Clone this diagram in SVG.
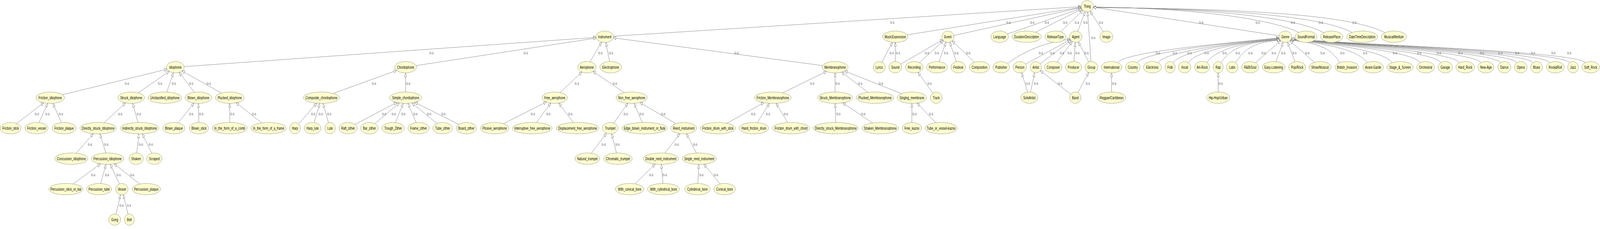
<svg xmlns="http://www.w3.org/2000/svg" width="6178" height="586" viewBox="0 0 6178 586" preserveAspectRatio="none" style="width:100vw;height:100vh;display:block">
<style>
.node ellipse{fill:#ffffcc;stroke:#8a8a8a;stroke-width:1}
.node text{font-family:"Liberation Sans",Arial,sans-serif;font-size:11px;text-anchor:middle;fill:#000}
#edges line,#edges path{stroke:#777;stroke-width:1;fill:none;marker-end:url(#arr)}
.lbl{font-family:"Liberation Sans",Arial,sans-serif;font-size:10px;fill:#6e6e6e;text-anchor:middle}
</style>
<defs>
<marker id="arr" viewBox="-1 -1 12 10" refX="10" refY="4" markerWidth="12" markerHeight="10" markerUnits="userSpaceOnUse" orient="auto">
<path d="M0,0 L10,4 L0,8 Z" fill="#fff" stroke="#777" stroke-width="1"/>
</marker>
</defs>
<rect width="6178" height="586" fill="#fff"/>
<g id="edges">
<line x1="2368.8" y1="92.6" x2="4174.1" y2="17"/>
<line x1="3503.2" y1="89.1" x2="4174.4" y2="18.5"/>
<line x1="3682.9" y1="90.7" x2="4174.7" y2="19.4"/>
<line x1="3889.9" y1="87.1" x2="4175.6" y2="21.2"/>
<line x1="3998.6" y1="82.5" x2="4177" y2="23"/>
<line x1="4094.9" y1="81.4" x2="4181.4" y2="26.5"/>
<line x1="4161.4" y1="80.3" x2="4190.2" y2="29.7"/>
<line x1="4259.9" y1="81.3" x2="4209.9" y2="28.6"/>
<line x1="4212.5" y1="157.5" x2="4199.5" y2="30.5"/>
<line x1="4938.4" y1="91.5" x2="4221.7" y2="18.4"/>
<path d="M5015,83 C4940,58 4700,22 4222,18"/>
<path d="M5112,84 C5040,56 4800,23 4222,18.5"/>
<path d="M5220,83 C5140,54 4900,23 4222,19"/>
<path d="M5348,84 C5260,52 5000,22 4222,19.5"/>
<line x1="710.8" y1="170.4" x2="2301.2" y2="95.6"/>
<line x1="1606.3" y1="167.9" x2="2301.9" y2="97.4"/>
<line x1="2278.1" y1="158.4" x2="2323" y2="107.6"/>
<line x1="2353.7" y1="157.6" x2="2339.2" y2="108.4"/>
<line x1="3176.6" y1="167.8" x2="2368.3" y2="96.9"/>
<line x1="3405.3" y1="159" x2="3445.8" y2="108.1"/>
<line x1="3457" y1="157.5" x2="3457" y2="108.5"/>
<line x1="3477.8" y1="164" x2="3640.1" y2="101.7"/>
<line x1="3549.8" y1="160.1" x2="3643.2" y2="104.1"/>
<line x1="3625.7" y1="157.8" x2="3652.6" y2="107.8"/>
<line x1="3692.8" y1="158" x2="3667.1" y2="107.8"/>
<line x1="3762.3" y1="159.4" x2="3676.3" y2="104.4"/>
<path d="M3892,162 C3960,128 4040,108 4132,100.4"/>
<line x1="3959.8" y1="164.1" x2="4133" y2="101.4"/>
<line x1="4016.7" y1="163.3" x2="4135.2" y2="103.3"/>
<line x1="4081.5" y1="158.9" x2="4140.2" y2="106"/>
<line x1="4146.6" y1="157.5" x2="4152" y2="108.5"/>
<line x1="4203.8" y1="158.8" x2="4163.8" y2="107.1"/>
<path d="M4316,160.4 C4346,130 4789,108 4938.5,96.9"/>
<path d="M4390.8,160.4 C4420.8,130 4789,108 4938.5,96.9"/>
<path d="M4471,160.4 C4501,130 4789,108 4939.5,99"/>
<path d="M4529.8,160.4 C4559.8,130 4789,108 4939.5,99"/>
<path d="M4588.4,160.4 C4618.4,130 4789,108 4941,100.9"/>
<path d="M4659.6,160.4 C4689.6,130 4789,108 4941,100.9"/>
<path d="M4715.2,160.4 C4745.2,130 4789,108 4943,102.7"/>
<path d="M4771.2,160.4 C4801.2,130 4831.2,108 4943,102.7"/>
<line x1="4847.5" y1="160.5" x2="4945.3" y2="104.2"/>
<line x1="4926.2" y1="157.8" x2="4955.1" y2="107.8"/>
<line x1="5000.5" y1="158" x2="4971" y2="107.7"/>
<line x1="5075.5" y1="159.5" x2="4980.6" y2="104.3"/>
<path d="M5173.4,160.4 C5143.4,130 5113.4,112 4983,102.7"/>
<path d="M5278.2,160.4 C5248.2,130 5136,112 4983,102.7"/>
<path d="M5375.6,160.4 C5345.6,130 5136,112 4985,100.9"/>
<path d="M5484,160.4 C5454,130 5136,112 4985,100.9"/>
<path d="M5564.1,160.4 C5534.1,130 5136,112 4985,100.9"/>
<path d="M5635.9,160.4 C5605.9,130 5136,112 4986.5,99"/>
<path d="M5718.8,160.4 C5688.8,130 5136,112 4986.5,99"/>
<path d="M5793.6,160.4 C5763.6,130 5136,112 4986.5,99"/>
<path d="M5857.3,160.4 C5827.3,130 5136,112 4986.5,99"/>
<path d="M5919.4,160.4 C5889.4,130 5136,112 4986.5,99"/>
<path d="M5984.7,160.4 C5954.7,130 5136,112 4986.5,99"/>
<path d="M6061.5,160.4 C6031.5,130 5136,112 4986.5,99"/>
<path d="M6121.6,160.4 C6091.6,130 5136,112 4986.5,99"/>
<line x1="240.9" y1="242.4" x2="645.2" y2="177.1"/>
<line x1="533.6" y1="237.7" x2="653.8" y2="182.6"/>
<line x1="644.1" y1="235.6" x2="669.7" y2="186.2"/>
<line x1="750.2" y1="236.2" x2="691.9" y2="185"/>
<line x1="855.1" y1="238.1" x2="702.6" y2="181.5"/>
<line x1="1286.6" y1="239.1" x2="1531.5" y2="180.3"/>
<line x1="1566" y1="235.5" x2="1566" y2="186.5"/>
<line x1="2162.9" y1="236.9" x2="2246.7" y2="184.2"/>
<line x1="2410.7" y1="237.2" x2="2289.8" y2="182.7"/>
<line x1="3021.8" y1="237.7" x2="3191.2" y2="182.8"/>
<line x1="3224.5" y1="235.5" x2="3224.5" y2="186.5"/>
<line x1="3352" y1="236.5" x2="3249.4" y2="184.6"/>
<line x1="3481.5" y1="239.6" x2="3261.5" y2="181.7"/>
<line x1="3602.1" y1="238.1" x2="3544.4" y2="185.2"/>
<line x1="3967.9" y1="235.8" x2="3944.6" y2="186"/>
<line x1="3979.1" y1="235.6" x2="3995" y2="186.2"/>
<line x1="4134.6" y1="241.1" x2="4016.6" y2="180.8"/>
<line x1="4162.2" y1="237.2" x2="4203.5" y2="185.2"/>
<line x1="4292" y1="235.5" x2="4292" y2="186.5"/>
<line x1="4703.6" y1="235.5" x2="4703.6" y2="186.5"/>
<line x1="64.4" y1="316.1" x2="168.7" y2="262.9"/>
<line x1="150.6" y1="313.8" x2="184.3" y2="264.3"/>
<line x1="237.7" y1="313.8" x2="203.8" y2="264.3"/>
<line x1="401.5" y1="314.3" x2="485.1" y2="263.2"/>
<line x1="532.8" y1="313.5" x2="512.5" y2="264.4"/>
<line x1="687.7" y1="314.6" x2="749.4" y2="263.7"/>
<line x1="767.9" y1="313.5" x2="766.1" y2="264.5"/>
<line x1="887" y1="313.5" x2="887" y2="264.5"/>
<line x1="1011.2" y1="314.6" x2="911.9" y2="263"/>
<line x1="1152.9" y1="317.4" x2="1222.7" y2="264"/>
<line x1="1213.2" y1="313.8" x2="1234.7" y2="264.4"/>
<line x1="1268.6" y1="314.2" x2="1247.2" y2="264.4"/>
<line x1="1370.7" y1="318.6" x2="1531.7" y2="262"/>
<line x1="1447.1" y1="316.5" x2="1542.1" y2="263.4"/>
<line x1="1526.7" y1="313.8" x2="1557.2" y2="264.4"/>
<line x1="1606.9" y1="313.9" x2="1575.2" y2="264.3"/>
<line x1="1687.2" y1="316.1" x2="1590.4" y2="263.3"/>
<line x1="1771.4" y1="318.3" x2="1601.6" y2="261.8"/>
<line x1="1943.9" y1="316.6" x2="2109.6" y2="260.9"/>
<line x1="2070.8" y1="313.8" x2="2126.6" y2="263.8"/>
<line x1="2214" y1="313.8" x2="2157.5" y2="263.8"/>
<line x1="2369.7" y1="315.1" x2="2424.1" y2="264"/>
<line x1="2479.8" y1="313.6" x2="2448.2" y2="264.3"/>
<line x1="2610.1" y1="316.4" x2="2470.7" y2="262.3"/>
<line x1="2806.1" y1="315.5" x2="2949.5" y2="262.7"/>
<line x1="2924.2" y1="313.9" x2="2970.7" y2="264.2"/>
<line x1="3041.7" y1="313.7" x2="2996.9" y2="264.3"/>
<line x1="3226.9" y1="313.5" x2="3224.6" y2="264.5"/>
<line x1="3369.5" y1="314.8" x2="3253.7" y2="263.1"/>
<line x1="3521" y1="313.5" x2="3521" y2="264.5"/>
<line x1="3614.1" y1="314.3" x2="3540.7" y2="263.6"/>
<line x1="293.9" y1="392.1" x2="360.4" y2="342"/>
<line x1="408.6" y1="391.6" x2="385.7" y2="342.4"/>
<line x1="528" y1="391.6" x2="536.3" y2="342.5"/>
<line x1="586" y1="392.4" x2="549.3" y2="342.4"/>
<line x1="2283.5" y1="392.3" x2="2341.6" y2="340.7"/>
<line x1="2380.5" y1="391.6" x2="2361.5" y2="342.3"/>
<line x1="2567.5" y1="391.9" x2="2624.4" y2="341.8"/>
<line x1="2689" y1="391.7" x2="2650.9" y2="342.1"/>
<line x1="281.8" y1="470.8" x2="388.3" y2="419.1"/>
<line x1="388.7" y1="469.6" x2="409.3" y2="420.4"/>
<line x1="461" y1="470.7" x2="425.4" y2="420.3"/>
<line x1="540" y1="471.1" x2="440.7" y2="419.3"/>
<line x1="2451.7" y1="470.6" x2="2530.2" y2="419.8"/>
<line x1="2560" y1="469.6" x2="2553.5" y2="420.4"/>
<line x1="2694.3" y1="469.6" x2="2698.7" y2="420.4"/>
<line x1="2781.3" y1="470.7" x2="2717.6" y2="420"/>
<line x1="447.9" y1="547.8" x2="465.4" y2="498.2"/>
<line x1="494.3" y1="548.1" x2="475.7" y2="498.1"/>
<g id="edge-labels">
<text class="lbl" x="3445" y="61.5">is-a</text><text class="lbl" x="3894" y="61.5">is-a</text><text class="lbl" x="3986" y="61.5">is-a</text><text class="lbl" x="4042" y="61.5">is-a</text><text class="lbl" x="4113" y="61.5">is-a</text><text class="lbl" x="4158" y="61.5">is-a</text><text class="lbl" x="4191" y="61.5">is-a</text><text class="lbl" x="4251" y="61.5">is-a</text><text class="lbl" x="4638" y="61.5">is-a</text><text class="lbl" x="4856" y="61.5">is-a</text><text class="lbl" x="4992" y="61.5">is-a</text><text class="lbl" x="5100" y="61.5">is-a</text><text class="lbl" x="5230" y="61.5">is-a</text>
<text class="lbl" x="4221" y="100.5">is-a</text>
<text class="lbl" x="1666" y="139.5">is-a</text><text class="lbl" x="2030" y="139.5">is-a</text><text class="lbl" x="2318" y="139.5">is-a</text><text class="lbl" x="2359" y="139.5">is-a</text><text class="lbl" x="2844" y="139.5">is-a</text><text class="lbl" x="3443" y="139.5">is-a</text><text class="lbl" x="3467" y="139.5">is-a</text><text class="lbl" x="3579" y="139.5">is-a</text><text class="lbl" x="3617" y="139.5">is-a</text><text class="lbl" x="3653" y="139.5">is-a</text><text class="lbl" x="3693" y="139.5">is-a</text><text class="lbl" x="3738" y="139.5">is-a</text><text class="lbl" x="4019" y="139.5">is-a</text><text class="lbl" x="4063" y="139.5">is-a</text><text class="lbl" x="4101" y="139.5">is-a</text><text class="lbl" x="4130" y="139.5">is-a</text><text class="lbl" x="4160" y="139.5">is-a</text><text class="lbl" x="4195" y="139.5">is-a</text>
<text class="lbl" x="4471" y="139.5">is-a</text><text class="lbl" x="4536" y="139.5">is-a</text><text class="lbl" x="4593" y="139.5">is-a</text><text class="lbl" x="4659" y="139.5">is-a</text><text class="lbl" x="4728" y="139.5">is-a</text><text class="lbl" x="4779" y="139.5">is-a</text><text class="lbl" x="4828" y="139.5">is-a</text><text class="lbl" x="4879" y="139.5">is-a</text><text class="lbl" x="4918" y="139.5">is-a</text><text class="lbl" x="4955" y="139.5">is-a</text><text class="lbl" x="4998" y="139.5">is-a</text><text class="lbl" x="5048" y="139.5">is-a</text><text class="lbl" x="5107" y="139.5">is-a</text><text class="lbl" x="5183" y="139.5">is-a</text><text class="lbl" x="5271" y="139.5">is-a</text><text class="lbl" x="5386" y="139.5">is-a</text><text class="lbl" x="5480" y="139.5">is-a</text><text class="lbl" x="5556" y="139.5">is-a</text><text class="lbl" x="5639" y="139.5">is-a</text><text class="lbl" x="5722" y="139.5">is-a</text><text class="lbl" x="5793" y="139.5">is-a</text><text class="lbl" x="5858" y="139.5">is-a</text><text class="lbl" x="5919" y="139.5">is-a</text><text class="lbl" x="5998" y="139.5">is-a</text><text class="lbl" x="6059" y="139.5">is-a</text>
<text class="lbl" x="490" y="217.5">is-a</text><text class="lbl" x="618" y="217.5">is-a</text><text class="lbl" x="671" y="217.5">is-a</text><text class="lbl" x="738" y="217.5">is-a</text><text class="lbl" x="806" y="217.5">is-a</text><text class="lbl" x="1444" y="217.5">is-a</text><text class="lbl" x="1576" y="217.5">is-a</text><text class="lbl" x="2227" y="217.5">is-a</text><text class="lbl" x="2374" y="217.5">is-a</text><text class="lbl" x="3136" y="217.5">is-a</text><text class="lbl" x="3234" y="217.5">is-a</text><text class="lbl" x="3321" y="217.5">is-a</text><text class="lbl" x="3401" y="217.5">is-a</text><text class="lbl" x="3589" y="217.5">is-a</text><text class="lbl" x="3969" y="217.5">is-a</text><text class="lbl" x="4000" y="217.5">is-a</text><text class="lbl" x="4093" y="217.5">is-a</text><text class="lbl" x="4200" y="217.5">is-a</text><text class="lbl" x="4302" y="217.5">is-a</text><text class="lbl" x="4713" y="217.5">is-a</text>
<text class="lbl" x="142" y="295.5">is-a</text><text class="lbl" x="183" y="295.5">is-a</text><text class="lbl" x="235" y="295.5">is-a</text><text class="lbl" x="464" y="295.5">is-a</text><text class="lbl" x="536" y="295.5">is-a</text><text class="lbl" x="738" y="295.5">is-a</text><text class="lbl" x="777" y="295.5">is-a</text><text class="lbl" x="897" y="295.5">is-a</text><text class="lbl" x="981" y="295.5">is-a</text><text class="lbl" x="1209" y="295.5">is-a</text><text class="lbl" x="1238" y="295.5">is-a</text><text class="lbl" x="1271" y="295.5">is-a</text><text class="lbl" x="1483" y="295.5">is-a</text><text class="lbl" x="1520" y="295.5">is-a</text><text class="lbl" x="1557" y="295.5">is-a</text><text class="lbl" x="1604" y="295.5">is-a</text><text class="lbl" x="1657" y="295.5">is-a</text><text class="lbl" x="1712" y="295.5">is-a</text><text class="lbl" x="2057" y="295.5">is-a</text><text class="lbl" x="2117" y="295.5">is-a</text><text class="lbl" x="2202" y="295.5">is-a</text><text class="lbl" x="2416" y="295.5">is-a</text><text class="lbl" x="2477" y="295.5">is-a</text><text class="lbl" x="2561" y="295.5">is-a</text><text class="lbl" x="2908" y="295.5">is-a</text><text class="lbl" x="2965" y="295.5">is-a</text><text class="lbl" x="3034" y="295.5">is-a</text><text class="lbl" x="3237" y="295.5">is-a</text><text class="lbl" x="3333" y="295.5">is-a</text><text class="lbl" x="3531" y="295.5">is-a</text><text class="lbl" x="3595" y="295.5">is-a</text>
<text class="lbl" x="347" y="373.5">is-a</text><text class="lbl" x="410" y="373.5">is-a</text><text class="lbl" x="544" y="373.5">is-a</text><text class="lbl" x="582" y="373.5">is-a</text><text class="lbl" x="2331" y="373.5">is-a</text><text class="lbl" x="2384" y="373.5">is-a</text><text class="lbl" x="2613" y="373.5">is-a</text><text class="lbl" x="2684" y="373.5">is-a</text>
<text class="lbl" x="360" y="451.5">is-a</text><text class="lbl" x="413" y="451.5">is-a</text><text class="lbl" x="458" y="451.5">is-a</text><text class="lbl" x="510" y="451.5">is-a</text><text class="lbl" x="2514" y="451.5">is-a</text><text class="lbl" x="2567" y="451.5">is-a</text><text class="lbl" x="2708" y="451.5">is-a</text><text class="lbl" x="2765" y="451.5">is-a</text>
<text class="lbl" x="469" y="529.5">is-a</text><text class="lbl" x="498" y="529.5">is-a</text>
</g>
</g>
<g id="nodes">
<g id="n-Thing" class="node"><ellipse cx="4198" cy="16" rx="24" ry="14.5"/><text x="4198" y="20">Thing</text></g>
<g id="n-Instrument" class="node"><ellipse cx="2335" cy="94" rx="34" ry="14.5"/><text x="2335" y="98">Instrument</text></g>
<g id="n-MusicExpression" class="node"><ellipse cx="3457" cy="94" rx="49" ry="14.5"/><text x="3457" y="98">MusicExpression</text></g>
<g id="n-Event" class="node"><ellipse cx="3660" cy="94" rx="23.5" ry="14.5"/><text x="3660" y="98">Event</text></g>
<g id="n-Language" class="node"><ellipse cx="3860" cy="94" rx="34" ry="14.5"/><text x="3860" y="98">Language</text></g>
<g id="n-DurationDescription" class="node"><ellipse cx="3964" cy="94" rx="57" ry="14.5"/><text x="3964" y="98">DurationDescription</text></g>
<g id="n-ReleaseType" class="node"><ellipse cx="4075" cy="94" rx="40.5" ry="14.5"/><text x="4075" y="98">ReleaseType</text></g>
<g id="n-Agent" class="node"><ellipse cx="4153.6" cy="94" rx="24" ry="14.5"/><text x="4153.6" y="98">Agent</text></g>
<g id="n-Image" class="node"><ellipse cx="4272" cy="94" rx="25" ry="14.5"/><text x="4272" y="98">Image</text></g>
<g id="n-Genre" class="node"><ellipse cx="4963" cy="94" rx="25" ry="14.5"/><text x="4963" y="98">Genre</text></g>
<g id="n-SoundFormat" class="node"><ellipse cx="5043" cy="94" rx="42" ry="14.5"/><text x="5043" y="98">SoundFormat</text></g>
<g id="n-ReleasePlace" class="node"><ellipse cx="5142" cy="94" rx="43" ry="14.5"/><text x="5142" y="98">ReleasePlace</text></g>
<g id="n-DateTimeDescription" class="node"><ellipse cx="5260" cy="94" rx="60" ry="14.5"/><text x="5260" y="98">DateTimeDescription</text></g>
<g id="n-MusicalMedium" class="node"><ellipse cx="5382.5" cy="94" rx="49" ry="14.5"/><text x="5382.5" y="98">MusicalMedium</text></g>
<g id="n-Idiophone" class="node"><ellipse cx="677" cy="172" rx="34" ry="14.5"/><text x="677" y="176">Idiophone</text></g>
<g id="n-Chordophone" class="node"><ellipse cx="1566" cy="172" rx="42" ry="14.5"/><text x="1566" y="176">Chordophone</text></g>
<g id="n-Aerophone" class="node"><ellipse cx="2266" cy="172" rx="35.5" ry="14.5"/><text x="2266" y="176">Aerophone</text></g>
<g id="n-Electrophone" class="node"><ellipse cx="2358" cy="172" rx="42" ry="14.5"/><text x="2358" y="176">Electrophone</text></g>
<g id="n-Membranophone" class="node"><ellipse cx="3224.5" cy="172" rx="50" ry="14.5"/><text x="3224.5" y="176">Membranophone</text></g>
<g id="n-Lyrics" class="node"><ellipse cx="3395" cy="172" rx="23.5" ry="14.5"/><text x="3395" y="176">Lyrics</text></g>
<g id="n-Sound" class="node"><ellipse cx="3457" cy="172" rx="25" ry="14.5"/><text x="3457" y="176">Sound</text></g>
<g id="n-Recording" class="node"><ellipse cx="3530" cy="172" rx="34.5" ry="14.5"/><text x="3530" y="176">Recording</text></g>
<g id="n-Performance" class="node"><ellipse cx="3618" cy="172" rx="40" ry="14.5"/><text x="3618" y="176">Performance</text></g>
<g id="n-Festival" class="node"><ellipse cx="3700" cy="172" rx="28" ry="14.5"/><text x="3700" y="176">Festival</text></g>
<g id="n-Composition" class="node"><ellipse cx="3782" cy="172" rx="39.5" ry="14.5"/><text x="3782" y="176">Composition</text></g>
<g id="n-Publisher" class="node"><ellipse cx="3866" cy="172" rx="32" ry="14.5"/><text x="3866" y="176">Publisher</text></g>
<g id="n-Person" class="node"><ellipse cx="3938" cy="172" rx="26" ry="14.5"/><text x="3938" y="176">Person</text></g>
<g id="n-Artist" class="node"><ellipse cx="3999.5" cy="172" rx="21.5" ry="14.5"/><text x="3999.5" y="176">Artist</text></g>
<g id="n-Composer" class="node"><ellipse cx="4067" cy="172" rx="33.5" ry="14.5"/><text x="4067" y="176">Composer</text></g>
<g id="n-Producer" class="node"><ellipse cx="4145" cy="172" rx="31.5" ry="14.5"/><text x="4145" y="176">Producer</text></g>
<g id="n-Group" class="node"><ellipse cx="4214" cy="172" rx="25" ry="14.5"/><text x="4214" y="176">Group</text></g>
<g id="n-International" class="node"><ellipse cx="4292" cy="172" rx="40" ry="14.5"/><text x="4292" y="176">International</text></g>
<g id="n-Country" class="node"><ellipse cx="4374" cy="172" rx="28" ry="14.5"/><text x="4374" y="176">Country</text></g>
<g id="n-Electronic" class="node"><ellipse cx="4450" cy="172" rx="35" ry="14.5"/><text x="4450" y="176">Electronic</text></g>
<g id="n-Folk" class="node"><ellipse cx="4518" cy="172" rx="19.6" ry="14.5"/><text x="4518" y="176">Folk</text></g>
<g id="n-Vocal" class="node"><ellipse cx="4574" cy="172" rx="24" ry="14.5"/><text x="4574" y="176">Vocal</text></g>
<g id="n-Art-Rock" class="node"><ellipse cx="4642" cy="172" rx="29.3" ry="14.5"/><text x="4642" y="176">Art-Rock</text></g>
<g id="n-Rap" class="node"><ellipse cx="4703.6" cy="172" rx="19.4" ry="14.5"/><text x="4703.6" y="176">Rap</text></g>
<g id="n-Latin" class="node"><ellipse cx="4758" cy="172" rx="22" ry="14.5"/><text x="4758" y="176">Latin</text></g>
<g id="n-RB_Soul" class="node"><ellipse cx="4827.5" cy="172" rx="33" ry="14.5"/><text x="4827.5" y="176">R&amp;B/Soul</text></g>
<g id="n-Easy-Listening" class="node"><ellipse cx="4918" cy="172" rx="44" ry="14.5"/><text x="4918" y="176">Easy-Listening</text></g>
<g id="n-Pop_Rock" class="node"><ellipse cx="5008.7" cy="172" rx="32.6" ry="14.5"/><text x="5008.7" y="176">Pop/Rock</text></g>
<g id="n-Show_Musical" class="node"><ellipse cx="5097" cy="172" rx="42.6" ry="14.5"/><text x="5097" y="176">Show/Musical</text></g>
<g id="n-British_Invasion" class="node"><ellipse cx="5201" cy="172" rx="46" ry="14.5"/><text x="5201" y="176">British_Invasion</text></g>
<g id="n-Avant-Garde" class="node"><ellipse cx="5302" cy="172" rx="39.6" ry="14.5"/><text x="5302" y="176">Avant-Garde</text></g>
<g id="n-Stage_Screen" class="node"><ellipse cx="5406" cy="172" rx="50.7" ry="14.5"/><text x="5406" y="176">Stage_&amp;_Screen</text></g>
<g id="n-Orchestral" class="node"><ellipse cx="5504.6" cy="172" rx="34.3" ry="14.5"/><text x="5504.6" y="176">Orchestral</text></g>
<g id="n-Garage" class="node"><ellipse cx="5580.7" cy="172" rx="27.7" ry="14.5"/><text x="5580.7" y="176">Garage</text></g>
<g id="n-Hard_Rock" class="node"><ellipse cx="5657.5" cy="172" rx="36" ry="14.5"/><text x="5657.5" y="176">Hard_Rock</text></g>
<g id="n-New-Age" class="node"><ellipse cx="5737.4" cy="172" rx="31" ry="14.5"/><text x="5737.4" y="176">New-Age</text></g>
<g id="n-Dance" class="node"><ellipse cx="5808.6" cy="172" rx="25" ry="14.5"/><text x="5808.6" y="176">Dance</text></g>
<g id="n-Opera" class="node"><ellipse cx="5872" cy="172" rx="24.5" ry="14.5"/><text x="5872" y="176">Opera</text></g>
<g id="n-Blues" class="node"><ellipse cx="5933" cy="172" rx="22.7" ry="14.5"/><text x="5933" y="176">Blues</text></g>
<g id="n-Rock_Roll" class="node"><ellipse cx="6005.5" cy="172" rx="34.6" ry="14.5"/><text x="6005.5" y="176">Rock&amp;Roll</text></g>
<g id="n-Jazz" class="node"><ellipse cx="6074" cy="172" rx="20.8" ry="14.5"/><text x="6074" y="176">Jazz</text></g>
<g id="n-Soft_Rock" class="node"><ellipse cx="6142" cy="172" rx="34" ry="14.5"/><text x="6142" y="176">Soft_Rock</text></g>
<g id="n-Friction_idiophone" class="node"><ellipse cx="194" cy="250" rx="55" ry="14.5"/><text x="194" y="254">Friction_idiophone</text></g>
<g id="n-Struck_idiophone" class="node"><ellipse cx="506.6" cy="250" rx="51.5" ry="14.5"/><text x="506.6" y="254">Struck_idiophone</text></g>
<g id="n-Unclassified_idiophone" class="node"><ellipse cx="636.7" cy="250" rx="65" ry="14.5"/><text x="636.7" y="254">Unclassified_idiophone</text></g>
<g id="n-Blown_idiophone" class="node"><ellipse cx="766" cy="250" rx="51.5" ry="14.5"/><text x="766" y="254">Blown_idiophone</text></g>
<g id="n-Plucked_idiophone" class="node"><ellipse cx="887" cy="250" rx="55.5" ry="14.5"/><text x="887" y="254">Plucked_idiophone</text></g>
<g id="n-Composite_chordophone" class="node"><ellipse cx="1241" cy="250" rx="69.5" ry="14.5"/><text x="1241" y="254">Composite_chordophone</text></g>
<g id="n-Simple_chordophone" class="node"><ellipse cx="1566" cy="250" rx="61.5" ry="14.5"/><text x="1566" y="254">Simple_chordophone</text></g>
<g id="n-Free_aerophone" class="node"><ellipse cx="2142" cy="250" rx="49" ry="14.5"/><text x="2142" y="254">Free_aerophone</text></g>
<g id="n-Non_free_aerophone" class="node"><ellipse cx="2439" cy="250" rx="60" ry="14.5"/><text x="2439" y="254">Non_free_aerophone</text></g>
<g id="n-Friction_Membranophone" class="node"><ellipse cx="2984" cy="250" rx="71" ry="14.5"/><text x="2984" y="254">Friction_Membranophone</text></g>
<g id="n-Struck_Membranophone" class="node"><ellipse cx="3224.5" cy="250" rx="67.5" ry="14.5"/><text x="3224.5" y="254">Struck_Membranophone</text></g>
<g id="n-Plucked_Membranophone" class="node"><ellipse cx="3378.6" cy="250" rx="72.5" ry="14.5"/><text x="3378.6" y="254">Plucked_Membranophone</text></g>
<g id="n-Singing_membrane" class="node"><ellipse cx="3521" cy="250" rx="56.5" ry="14.5"/><text x="3521" y="254">Singing_membrane</text></g>
<g id="n-Track" class="node"><ellipse cx="3615" cy="250" rx="22.5" ry="14.5"/><text x="3615" y="254">Track</text></g>
<g id="n-SoloArtist" class="node"><ellipse cx="3974.5" cy="250" rx="32.7" ry="14.5"/><text x="3974.5" y="254">SoloArtist</text></g>
<g id="n-Band" class="node"><ellipse cx="4152" cy="250" rx="22" ry="14.5"/><text x="4152" y="254">Band</text></g>
<g id="n-Reggae_Caribbean" class="node"><ellipse cx="4292" cy="250" rx="54.5" ry="14.5"/><text x="4292" y="254">Reggae/Caribbean</text></g>
<g id="n-Hip-Hop_Urban" class="node"><ellipse cx="4703.6" cy="250" rx="44.4" ry="14.5"/><text x="4703.6" y="254">Hip-Hop/Urban</text></g>
<g id="n-Friction_stick" class="node"><ellipse cx="41" cy="328" rx="40.5" ry="14.5"/><text x="41" y="332">Friction_stick</text></g>
<g id="n-Friction_vessel" class="node"><ellipse cx="141" cy="328" rx="44.5" ry="14.5"/><text x="141" y="332">Friction_vessel</text></g>
<g id="n-Friction_plaque" class="node"><ellipse cx="247.4" cy="328" rx="46.5" ry="14.5"/><text x="247.4" y="332">Friction_plaque</text></g>
<g id="n-Directly_struck_Idiophone" class="node"><ellipse cx="379" cy="328" rx="70.5" ry="14.5"/><text x="379" y="332">Directly_struck_Idiophone</text></g>
<g id="n-Indirectly_struck_Idiophone" class="node"><ellipse cx="538.8" cy="328" rx="75" ry="14.5"/><text x="538.8" y="332">Indirectly_struck_Idiophone</text></g>
<g id="n-Blown_plaque" class="node"><ellipse cx="671.4" cy="328" rx="43" ry="14.5"/><text x="671.4" y="332">Blown_plaque</text></g>
<g id="n-Blown_stick" class="node"><ellipse cx="768" cy="328" rx="37" ry="14.5"/><text x="768" y="332">Blown_stick</text></g>
<g id="n-In_the_form_of_a_comb" class="node"><ellipse cx="887" cy="328" rx="68" ry="14.5"/><text x="887" y="332">In_the_form_of_a_comb</text></g>
<g id="n-In_the_form_of_a_frame" class="node"><ellipse cx="1037" cy="328" rx="68" ry="14.5"/><text x="1037" y="332">In_the_form_of_a_frame</text></g>
<g id="n-Harp" class="node"><ellipse cx="1139" cy="328" rx="20.5" ry="14.5"/><text x="1139" y="332">Harp</text></g>
<g id="n-Harp_lute" class="node"><ellipse cx="1207" cy="328" rx="32.5" ry="14.5"/><text x="1207" y="332">Harp_lute</text></g>
<g id="n-Lute" class="node"><ellipse cx="1274.5" cy="328" rx="20" ry="14.5"/><text x="1274.5" y="332">Lute</text></g>
<g id="n-Raft_zither" class="node"><ellipse cx="1344" cy="328" rx="35" ry="14.5"/><text x="1344" y="332">Raft_zither</text></g>
<g id="n-Bar_zither" class="node"><ellipse cx="1426.5" cy="328" rx="34" ry="14.5"/><text x="1426.5" y="332">Bar_zither</text></g>
<g id="n-Trough_Zither" class="node"><ellipse cx="1518" cy="328" rx="43.5" ry="14.5"/><text x="1518" y="332">Trough_Zither</text></g>
<g id="n-Frame_zither" class="node"><ellipse cx="1616" cy="328" rx="41" ry="14.5"/><text x="1616" y="332">Frame_zither</text></g>
<g id="n-Tube_zither" class="node"><ellipse cx="1709" cy="328" rx="38" ry="14.5"/><text x="1709" y="332">Tube_zither</text></g>
<g id="n-Board_zither" class="node"><ellipse cx="1800.5" cy="328" rx="39" ry="14.5"/><text x="1800.5" y="332">Board_zither</text></g>
<g id="n-Plosive_aerophone" class="node"><ellipse cx="1910" cy="328" rx="55" ry="14.5"/><text x="1910" y="332">Plosive_aerophone</text></g>
<g id="n-Interruptive_free_aerophone" class="node"><ellipse cx="2055" cy="328" rx="77" ry="14.5"/><text x="2055" y="332">Interruptive_free_aerophone</text></g>
<g id="n-Displacement_free_aerophone" class="node"><ellipse cx="2230" cy="328" rx="82.5" ry="14.5"/><text x="2230" y="332">Displacement_free_aerophone</text></g>
<g id="n-Trumpet" class="node"><ellipse cx="2356" cy="328" rx="30" ry="14.5"/><text x="2356" y="332">Trumpet</text></g>
<g id="n-Edge_blown_instrument_or_flute" class="node"><ellipse cx="2489" cy="328" rx="87.5" ry="14.5"/><text x="2489" y="332">Edge_blown_instrument_or_flute</text></g>
<g id="n-Reed_instrument" class="node"><ellipse cx="2640" cy="328" rx="50" ry="14.5"/><text x="2640" y="332">Reed_instrument</text></g>
<g id="n-Friction_drum_with_stick" class="node"><ellipse cx="2772" cy="328" rx="68" ry="14.5"/><text x="2772" y="332">Friction_drum_with_stick</text></g>
<g id="n-Hand_friction_drum" class="node"><ellipse cx="2911" cy="328" rx="57" ry="14.5"/><text x="2911" y="332">Hand_friction_drum</text></g>
<g id="n-Friction_drum_with_chord" class="node"><ellipse cx="3054.6" cy="328" rx="71.5" ry="14.5"/><text x="3054.6" y="332">Friction_drum_with_chord</text></g>
<g id="n-Directly_struck_Membranophone" class="node"><ellipse cx="3227" cy="328" rx="87" ry="14.5"/><text x="3227" y="332">Directly_struck_Membranophone</text></g>
<g id="n-Shaken_Membranophone" class="node"><ellipse cx="3399" cy="328" rx="70.7" ry="14.5"/><text x="3399" y="332">Shaken_Membranophone</text></g>
<g id="n-Free_kazoo" class="node"><ellipse cx="3521" cy="328" rx="37" ry="14.5"/><text x="3521" y="332">Free_kazoo</text></g>
<g id="n-Tube_or_vessel-kazoo" class="node"><ellipse cx="3634" cy="328" rx="62" ry="14.5"/><text x="3634" y="332">Tube_or_vessel-kazoo</text></g>
<g id="n-Concussion_Idiophone" class="node"><ellipse cx="275.5" cy="406" rx="64" ry="14.5"/><text x="275.5" y="410">Concussion_Idiophone</text></g>
<g id="n-Percussion_Idiophone" class="node"><ellipse cx="415.3" cy="406" rx="63" ry="14.5"/><text x="415.3" y="410">Percussion_Idiophone</text></g>
<g id="n-Shaken" class="node"><ellipse cx="525.5" cy="406" rx="27.5" ry="14.5"/><text x="525.5" y="410">Shaken</text></g>
<g id="n-Scraped" class="node"><ellipse cx="596" cy="406" rx="29.5" ry="14.5"/><text x="596" y="410">Scraped</text></g>
<g id="n-Natural_trumpet" class="node"><ellipse cx="2268" cy="406" rx="48" ry="14.5"/><text x="2268" y="410">Natural_trumpet</text></g>
<g id="n-Chromatic_trumpet" class="node"><ellipse cx="2386" cy="406" rx="55" ry="14.5"/><text x="2386" y="410">Chromatic_trumpet</text></g>
<g id="n-Double_reed_instrument" class="node"><ellipse cx="2551.5" cy="406" rx="68" ry="14.5"/><text x="2551.5" y="410">Double_reed_instrument</text></g>
<g id="n-Single_reed_instrument" class="node"><ellipse cx="2700" cy="406" rx="66" ry="14.5"/><text x="2700" y="410">Single_reed_instrument</text></g>
<g id="n-Percussion_stick_or_bar" class="node"><ellipse cx="254.6" cy="484" rx="66" ry="14.5"/><text x="254.6" y="488">Percussion_stick_or_bar</text></g>
<g id="n-Percussion_tube" class="node"><ellipse cx="382.7" cy="484" rx="48.5" ry="14.5"/><text x="382.7" y="488">Percussion_tube</text></g>
<g id="n-Vessel" class="node"><ellipse cx="470.4" cy="484" rx="24" ry="14.5"/><text x="470.4" y="488">Vessel</text></g>
<g id="n-Percussion_plaque" class="node"><ellipse cx="564.8" cy="484" rx="55" ry="14.5"/><text x="564.8" y="488">Percussion_plaque</text></g>
<g id="n-With_conical_bore" class="node"><ellipse cx="2431" cy="484" rx="55" ry="14.5"/><text x="2431" y="488">With_conical_bore</text></g>
<g id="n-With_cylindrical_bore" class="node"><ellipse cx="2562" cy="484" rx="62" ry="14.5"/><text x="2562" y="488">With_cylindrical_bore</text></g>
<g id="n-Cylindrical_bore" class="node"><ellipse cx="2693" cy="484" rx="49" ry="14.5"/><text x="2693" y="488">Cylindrical_bore</text></g>
<g id="n-Conical_bore" class="node"><ellipse cx="2798" cy="484" rx="42" ry="14.5"/><text x="2798" y="488">Conical_bore</text></g>
<g id="n-Gong" class="node"><ellipse cx="442.9" cy="562" rx="23" ry="14.5"/><text x="442.9" y="566">Gong</text></g>
<g id="n-Bell" class="node"><ellipse cx="499.5" cy="562" rx="19" ry="14.5"/><text x="499.5" y="566">Bell</text></g>
</g>
</svg>
